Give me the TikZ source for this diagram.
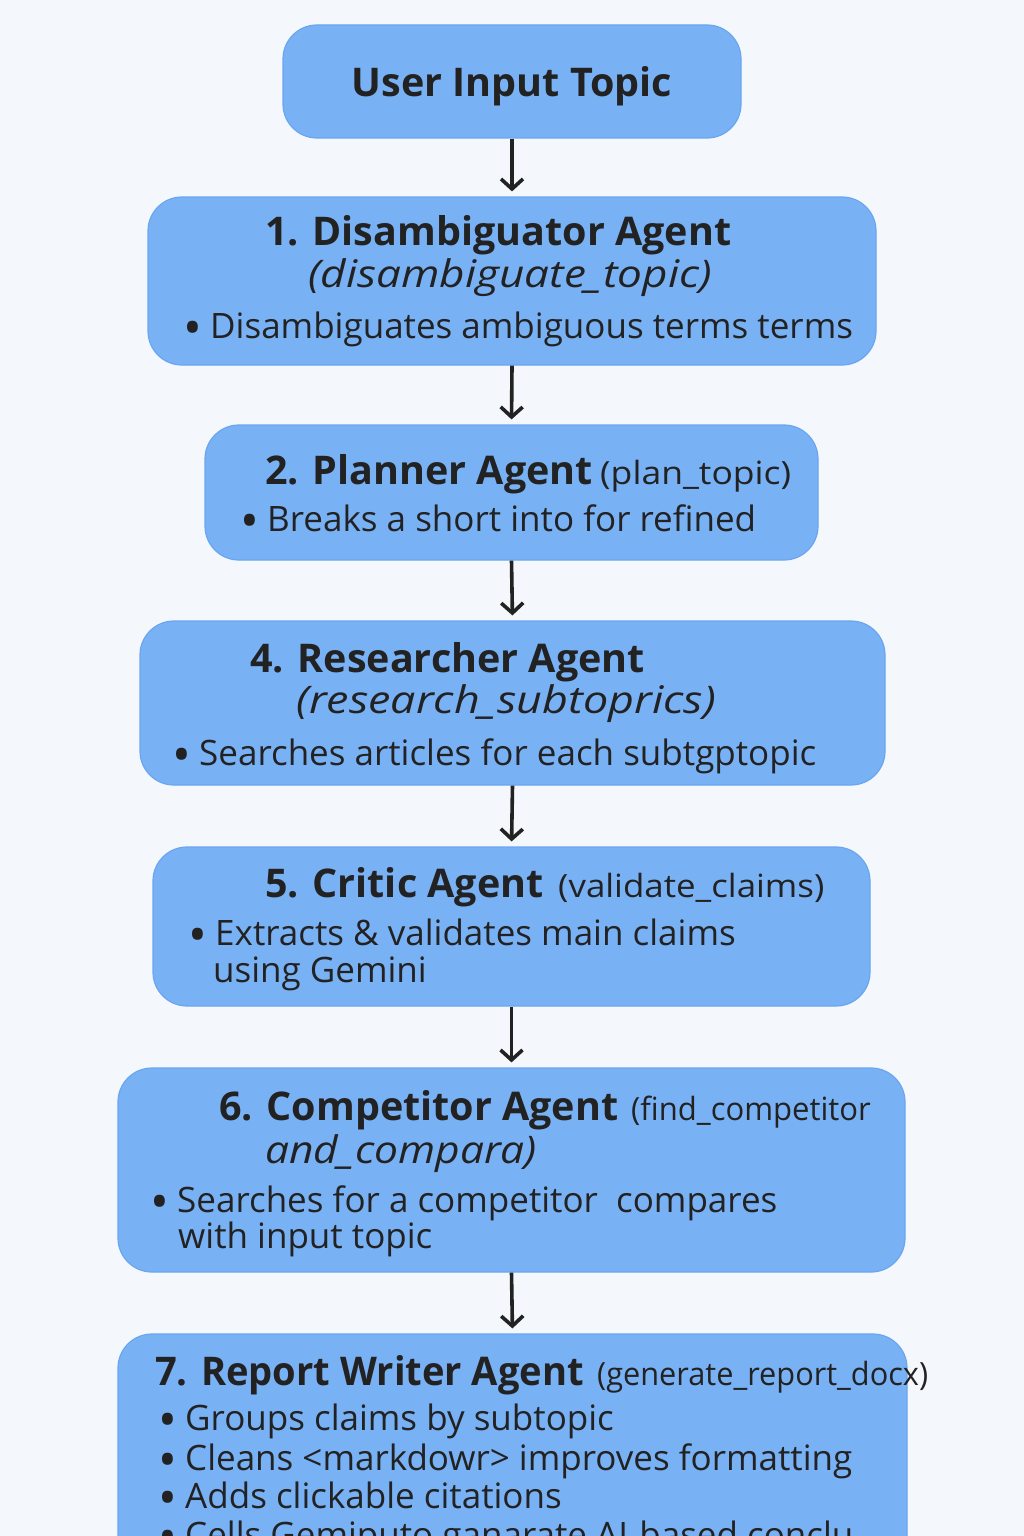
\documentclass[tikz,border=0pt]{standalone}
\usepackage{fontspec}
\setmainfont{Open Sans}
\usetikzlibrary{arrows.meta}

\definecolor{pagebg}{HTML}{F4F7FB}
\definecolor{boxfill}{HTML}{79B1F5}
\definecolor{boxline}{HTML}{6AA6F0}
\definecolor{ink}{HTML}{222222}

\newcommand{\titlesize}{\fontsize{39.5}{46}\selectfont\bfseries}
\newcommand{\topsize}{\fontsize{39.5}{46}\selectfont\bfseries}
\newcommand{\funcsize}{\fontsize{38}{44}\selectfont\itshape}
\newcommand{\parsize}{\fontsize{32}{38}\selectfont}
\newcommand{\bodysize}{\fontsize{35}{41}\selectfont}
\newcommand{\bul}{\makebox[27pt][l]{\smash{\raisebox{-7pt}{\fontsize{50}{50}\selectfont •}}}}

\begin{document}
\begin{tikzpicture}[x=1pt,y=-1pt,
  agent/.style={draw=boxline, line width=1.2pt, fill=boxfill,
    rounded corners=34pt, inner sep=0pt},
  line/.style={anchor=base west, inner sep=0pt, text=ink},
  flow/.style={draw=ink, line width=3.6pt, shorten >=5pt,
    -{Straight Barb[length=10pt,width=22pt,line width=3.6pt]}}]

% page
\fill[pagebg] (0,0) rectangle (1024,1536);
\clip (0,0) rectangle (1024,1536);

% boxes
\node[agent, minimum width=458pt, minimum height=113pt] (top) at (512,81.5) {};
\node[agent, minimum width=728pt, minimum height=168pt] (b1) at (512,281) {};
\node[agent, minimum width=613pt, minimum height=135pt] (b2) at (511.5,492.5) {};
\node[agent, minimum width=745pt, minimum height=164pt] (b4) at (512.5,703) {};
\node[agent, minimum width=717pt, minimum height=159pt] (b5) at (511.5,926.5) {};
\node[agent, minimum width=787pt, minimum height=204pt] (b6) at (511.5,1170) {};
\node[agent, minimum width=789pt, minimum height=306pt] (b7) at (512.5,1487) {};

% connectors
\draw[flow] (top.south) -- (b1.north);
\draw[flow] (b1.south) -- (b2.north);
\draw[flow] (b2.south) -- (b4.north);
\draw[flow] (b4.south) -- (b5.north);
\draw[flow] (b5.south) -- (b6.north);
\draw[flow] (b6.south) -- (b7.north);

% text: input
\node[anchor=base, inner sep=0pt, text=ink] (ttop) at (512,97) {\topsize User Input Topic};

% text: disambiguator
\node[line] (t1a) at (265,245) {\titlesize 1. Disambiguator Agent};
\node[line, xscale=1.16] (t1b) at (308,287) {\funcsize (disambiguate\_topic)};
\node[line] (t1c) at (183,338) {\bodysize\bul Disambiguates ambiguous terms terms};

% text: planner
\node[line] (t2a) at (265,484) {\titlesize 2. Planner Agent};
\node[line, xscale=1.11] (t2p) at (600,484) {\parsize (plan\_topic)};
\node[line] (t2b) at (240,531) {\bodysize\bul Breaks a short into for refined};

% text: researcher
\node[line] (t4a) at (250,672) {\titlesize 4. Researcher Agent};
\node[line, xscale=1.18] (t4b) at (296,713) {\funcsize (research\_subtoprics)};
\node[line] (t4c) at (172,765) {\bodysize\bul Searches articles for each subtgptopic};

% text: critic
\node[line] (t5a) at (265,897) {\titlesize 5. Critic Agent};
\node[line, xscale=1.09] (t5p) at (558,897) {\parsize (validate\_claims)};
\node[line] (t5b) at (188,945) {\bodysize\bul Extracts \& validates main claims};
\node[line] (t5c) at (213,982) {\bodysize using Gemini};

% text: competitor
\node[line] (t6a) at (219,1120) {\titlesize 6. Competitor Agent};
\node[line, xscale=0.97] (t6p) at (631,1120) {\parsize (find\_competitor};
\node[line, xscale=1.12] (t6b) at (265,1163) {\funcsize and\_compara)};
\node[line] (t6c) at (150,1212) {\bodysize\bul Searches for a competitor\ \ compares};
\node[line] (t6d) at (178,1248) {\bodysize with input topic};

% text: report writer
\node[line, xscale=0.965] (t7a) at (155,1385) {\titlesize 7. Report Writer Agent};
\node[line, xscale=0.96] (t7p) at (597,1385) {\parsize (generate\_report\_docx)};
\node[line] (t7b) at (158,1430) {\bodysize\bul Groups claims by subtopic};
\node[line] (t7c) at (158,1470) {\bodysize\bul Cleans <markdowr> improves\ formatting};
\node[line] (t7d) at (158,1508) {\bodysize\bul Adds clickable citations};
\node[line] (t7e) at (158,1547) {\bodysize\bul Cells Gemiputo ganarate AI-based conclu};
\end{tikzpicture}
\end{document}
